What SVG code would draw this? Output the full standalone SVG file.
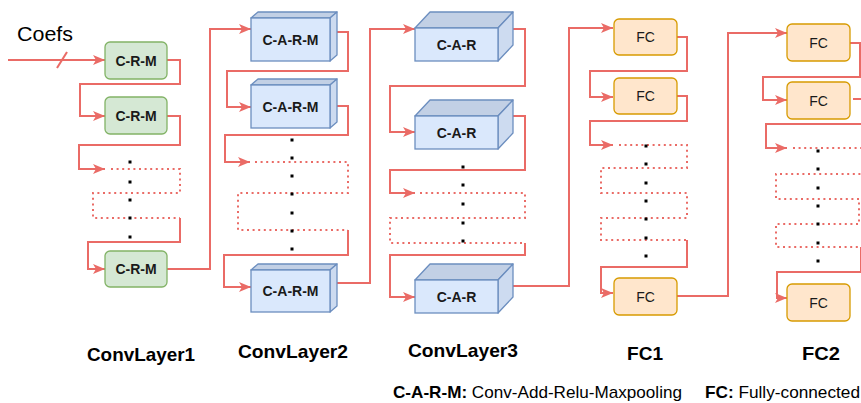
<svg xmlns="http://www.w3.org/2000/svg" width="861" height="403" viewBox="0 0 861 403">
<style>
.ln{fill:none;stroke:#ea6b66;stroke-width:2;stroke-linejoin:miter}
.dt{fill:none;stroke:#ea6b66;stroke-width:2;stroke-dasharray:2 3.6}
.g{fill:#d5e8d4;stroke:#82b366;stroke-width:1.3}
.o{fill:#ffe6cc;stroke:#d79b00;stroke-width:1.3}
.bf{fill:#dae8fc;stroke:#6c8ebf;stroke-width:1.3}
.bt{fill:#c2d0e5;stroke:#6c8ebf;stroke-width:1.3;stroke-linejoin:round}
.bs{fill:#cddbf0;stroke:#6c8ebf;stroke-width:1.3;stroke-linejoin:round}
.t{font-family:"Liberation Sans",Arial,sans-serif;font-size:14px;font-weight:bold;fill:#1a1a1a;text-anchor:middle}
.tf{font-family:"Liberation Sans",Arial,sans-serif;font-size:14px;fill:#1a1a1a;text-anchor:middle}
.lb{font-family:"Liberation Sans",Arial,sans-serif;font-size:19px;font-weight:bold;fill:#000}
.lg{font-family:"Liberation Sans",Arial,sans-serif;font-size:17px;fill:#000}
.dot{fill:#000}
</style>
<defs>
<marker id="ar" markerUnits="userSpaceOnUse" markerWidth="13" markerHeight="10" refX="12" refY="5" orient="auto">
<path d="M0,0 L12,5 L0,10 L3,5 z" fill="#ea6b66"/>
</marker>
</defs>

<text x="17" y="41" font-family="'Liberation Sans',Arial,sans-serif" font-size="20" textLength="56" lengthAdjust="spacingAndGlyphs">Coefs</text>

<g id="connectors">
<!-- ConvLayer1 -->
<path class="ln" d="M8,60 H105" marker-end="url(#ar)"/>
<path class="ln" d="M57,68 L67,52"/>
<path class="ln" d="M167,60 H180 V84 H80 V116 H105" marker-end="url(#ar)"/>
<path class="ln" d="M167,116 H180 V145 H79 V169 H105" marker-end="url(#ar)"/>
<path class="dt" d="M111,169 H180 V193 H93 V218 H180"/>
<path class="ln" d="M180,218 V242 H88 V269 H105" marker-end="url(#ar)"/>
<path class="ln" d="M167,269 H210 V29 H251" marker-end="url(#ar)"/>
<!-- ConvLayer2 -->
<path class="ln" d="M337,32 H348 V71 H227 V107 H251" marker-end="url(#ar)"/>
<path class="ln" d="M337,106 H348 V135 H225 V162 H250" marker-end="url(#ar)"/>
<path class="dt" d="M255,162 H348 V193 H238 V230 H348"/>
<path class="ln" d="M348,230 V255 H224 V287 H251" marker-end="url(#ar)"/>
<path class="ln" d="M337,283 H370 V29 H415" marker-end="url(#ar)"/>
<!-- ConvLayer3 -->
<path class="ln" d="M513,29 H525 V86 H390 V132 H415" marker-end="url(#ar)"/>
<path class="ln" d="M513,116 H525 V170 H390 V193 H415" marker-end="url(#ar)"/>
<path class="dt" d="M420,193 H525 V218 H390 V243 H525"/>
<path class="ln" d="M525,243 V255 H390 V297 H415" marker-end="url(#ar)"/>
<path class="ln" d="M513,286 H569 V28 H613" marker-end="url(#ar)"/>
<!-- FC1 -->
<path class="ln" d="M677,37 H687 V71 H590 V97 H613" marker-end="url(#ar)"/>
<path class="ln" d="M677,96 H687 V121 H590 V145 H613" marker-end="url(#ar)"/>
<path class="dt" d="M619,145 H687 V168 H601 V193 H687 V218 H601 V240 H687"/>
<path class="ln" d="M687,240 V267 H601 V293 H613" marker-end="url(#ar)"/>
<path class="ln" d="M677,296 H728 V33 H787" marker-end="url(#ar)"/>
<!-- FC2 -->
<path class="ln" d="M850,43 H860 V77 H763 V100 H787" marker-end="url(#ar)"/>
<path class="ln" d="M853,99 H866"/>
<path class="ln" d="M866,124 H766 V148 H787" marker-end="url(#ar)"/>
<path class="dt" d="M793,148 H866"/>
<path class="dt" d="M866,174 H776 V199 H859 V224 H776 V247 H866"/>
<path class="ln" d="M861,247 V272 H777 V298 H787" marker-end="url(#ar)"/>
</g>

<g id="dots">
<rect class="dot" x="128.5" y="160.5" width="3" height="3"/><rect class="dot" x="128.5" y="180.5" width="3" height="3"/><rect class="dot" x="128.5" y="198.5" width="3" height="3"/><rect class="dot" x="128.5" y="216.5" width="3" height="3"/><rect class="dot" x="128.5" y="235.5" width="3" height="3"/>
<rect class="dot" x="290.5" y="138.5" width="3" height="3"/><rect class="dot" x="290.5" y="156.5" width="3" height="3"/><rect class="dot" x="290.5" y="174.5" width="3" height="3"/><rect class="dot" x="290.5" y="192.5" width="3" height="3"/><rect class="dot" x="290.5" y="211.5" width="3" height="3"/><rect class="dot" x="290.5" y="229.5" width="3" height="3"/><rect class="dot" x="290.5" y="247.5" width="3" height="3"/>
<rect class="dot" x="461.5" y="165.5" width="3" height="3"/><rect class="dot" x="461.5" y="183.5" width="3" height="3"/><rect class="dot" x="461.5" y="202.5" width="3" height="3"/><rect class="dot" x="461.5" y="221.5" width="3" height="3"/><rect class="dot" x="461.5" y="239.5" width="3" height="3"/>
<rect class="dot" x="644.5" y="144.5" width="3" height="3"/><rect class="dot" x="644.5" y="162.5" width="3" height="3"/><rect class="dot" x="644.5" y="181.5" width="3" height="3"/><rect class="dot" x="644.5" y="199.5" width="3" height="3"/><rect class="dot" x="644.5" y="217.5" width="3" height="3"/><rect class="dot" x="644.5" y="236.5" width="3" height="3"/><rect class="dot" x="644.5" y="254.5" width="3" height="3"/>
<rect class="dot" x="816.5" y="149.5" width="3" height="3"/><rect class="dot" x="816.5" y="167.5" width="3" height="3"/><rect class="dot" x="816.5" y="186.5" width="3" height="3"/><rect class="dot" x="816.5" y="204.5" width="3" height="3"/><rect class="dot" x="816.5" y="222.5" width="3" height="3"/><rect class="dot" x="816.5" y="241.5" width="3" height="3"/><rect class="dot" x="816.5" y="259.5" width="3" height="3"/>
</g>

<!-- ConvLayer1 nodes -->
<g id="crm1"><rect class="g" x="105" y="42" width="62" height="37" rx="5"/><text class="t" x="136" y="65.5">C-R-M</text></g>
<g id="crm2"><rect class="g" x="105" y="97" width="62" height="37" rx="5"/><text class="t" x="136" y="120.5">C-R-M</text></g>
<g id="crm3"><rect class="g" x="105" y="251" width="62" height="36" rx="5"/><text class="t" x="136" y="274">C-R-M</text></g>

<!-- ConvLayer2 nodes -->
<g id="carm1">
<path class="bt" d="M251,18 L258,12 H337 L330,18 Z"/><path class="bs" d="M330,18 L337,12 V55 L330,61 Z"/>
<rect class="bf" x="251" y="18" width="79" height="43"/><text class="t" x="290.5" y="44.5">C-A-R-M</text></g>
<g id="carm2">
<path class="bt" d="M251,85 L258,79 H337 L330,85 Z"/><path class="bs" d="M330,85 L337,79 V122 L330,128 Z"/>
<rect class="bf" x="251" y="85" width="79" height="43"/><text class="t" x="290.5" y="111.5">C-A-R-M</text></g>
<g id="carm3">
<path class="bt" d="M251,270 L258,264 H337 L330,270 Z"/><path class="bs" d="M330,270 L337,264 V306 L330,312 Z"/>
<rect class="bf" x="251" y="270" width="79" height="42"/><text class="t" x="290.5" y="296">C-A-R-M</text></g>

<!-- ConvLayer3 nodes -->
<g id="car1">
<path class="bt" d="M415,28 L430,12 H513 L498,28 Z"/><path class="bs" d="M498,28 L513,12 V45 L498,61 Z"/>
<rect class="bf" x="415" y="28" width="83" height="33"/><text class="t" x="456.5" y="49.5">C-A-R</text></g>
<g id="car2">
<path class="bt" d="M415,116 L430,100 H513 L498,116 Z"/><path class="bs" d="M498,116 L513,100 V133 L498,149 Z"/>
<rect class="bf" x="415" y="116" width="83" height="33"/><text class="t" x="456.5" y="137.5">C-A-R</text></g>
<g id="car3">
<path class="bt" d="M415,280 L430,264 H513 L498,280 Z"/><path class="bs" d="M498,280 L513,264 V297 L498,313 Z"/>
<rect class="bf" x="415" y="280" width="83" height="33"/><text class="t" x="456.5" y="301.5">C-A-R</text></g>

<!-- FC1 nodes -->
<g id="fc1a"><rect class="o" x="614" y="19" width="63" height="36" rx="5"/><text class="tf" x="645.5" y="42">FC</text></g>
<g id="fc1b"><rect class="o" x="614" y="78" width="63" height="36" rx="5"/><text class="tf" x="645.5" y="101">FC</text></g>
<g id="fc1c"><rect class="o" x="614" y="278" width="63" height="37" rx="5"/><text class="tf" x="645.5" y="301.5">FC</text></g>

<!-- FC2 nodes -->
<g id="fc2a"><rect class="o" x="787" y="24" width="63" height="37" rx="5"/><text class="tf" x="818.5" y="47.5">FC</text></g>
<g id="fc2b"><rect class="o" x="787" y="82" width="63" height="37" rx="5"/><text class="tf" x="818.5" y="105.5">FC</text></g>
<g id="fc2c"><rect class="o" x="787" y="284" width="63" height="37" rx="5"/><text class="tf" x="818.5" y="307.5">FC</text></g>

<g id="labels">
<text class="lb" x="87" y="361" textLength="108" lengthAdjust="spacingAndGlyphs">ConvLayer1</text>
<text class="lb" x="238" y="358" textLength="110" lengthAdjust="spacingAndGlyphs">ConvLayer2</text>
<text class="lb" x="408" y="357" textLength="110" lengthAdjust="spacingAndGlyphs">ConvLayer3</text>
<text class="lb" x="627" y="360" textLength="36" lengthAdjust="spacingAndGlyphs">FC1</text>
<text class="lb" x="802" y="360" textLength="38" lengthAdjust="spacingAndGlyphs">FC2</text>
</g>
<g id="legend">
<text class="lg" x="393" y="398" textLength="289" lengthAdjust="spacingAndGlyphs"><tspan font-weight="bold">C-A-R-M:</tspan> Conv-Add-Relu-Maxpooling</text>
<text class="lg" x="705" y="398" textLength="155" lengthAdjust="spacingAndGlyphs"><tspan font-weight="bold">FC:</tspan> Fully-connected</text>
</g>
</svg>
